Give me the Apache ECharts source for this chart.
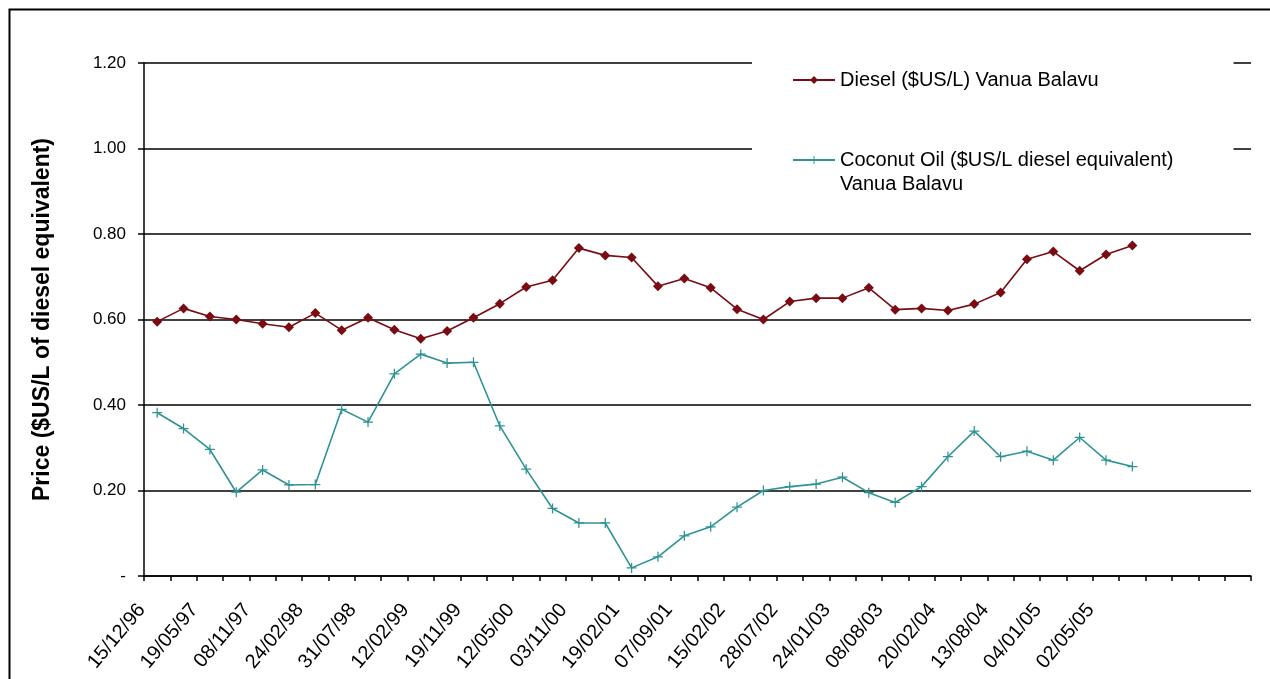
<!DOCTYPE html>
<html>
<head>
<meta charset="utf-8">
<script src="https://cdn.jsdelivr.net/npm/echarts@6/dist/echarts.min.js"></script>
<style>
html,body{margin:0;padding:0;background:#fff;}
#chart{width:1270px;height:679px;}
</style>
</head>
<body>
<div id="chart"></div>
<script>
// Tick labels shown on every other category
const dateLabels = ['15/12/96','19/05/97','08/11/97','24/02/98','31/07/98','12/02/99','19/11/99','12/05/00','03/11/00','19/02/01','07/09/01','15/02/02','28/07/02','24/01/03','08/08/03','20/02/04','13/08/04','04/01/05','02/05/05'];
const categoryCount = 42;

const dieselName = 'Diesel ($US/L) Vanua Balavu';
const coconutName = 'Coconut Oil ($US/L diesel equivalent) Vanua Balavu';

const diesel = [0.595,0.626,0.607,0.600,0.590,0.582,0.615,0.575,0.604,0.576,
                0.555,0.573,0.604,0.637,0.676,0.692,0.767,0.750,0.745,0.678,
                0.696,0.674,0.624,0.600,0.642,0.650,0.650,0.674,0.623,0.626,
                0.621,0.636,0.663,0.741,0.759,0.714,0.752,0.773];
const coconut = [0.382,0.345,0.296,0.196,0.248,0.213,0.214,0.390,0.360,0.473,
                 0.519,0.498,0.500,0.351,0.250,0.158,0.124,0.124,0.019,0.045,
                 0.094,0.115,0.161,0.200,0.209,0.215,0.231,0.195,0.172,0.209,
                 0.279,0.339,0.279,0.292,0.271,0.324,0.271,0.256];

const yTicks = [0, 0.2, 0.4, 0.6, 0.8, 1.0, 1.2];

const categories = [];
for (let i = 0; i < categoryCount; i++) {
  categories.push(i % 2 === 0 && dateLabels[i / 2] ? dateLabels[i / 2] : '');
}

const font = 'Liberation Sans, Arial, sans-serif';
const plusPath = 'path://M7,0h2v7h7v2h-7v7h-2v-7h-7v-2h7z';

const chart = echarts.init(document.getElementById('chart'), null, {renderer: 'canvas'});
chart.setOption({
  animation: false,
  backgroundColor: '#fff',
  graphic: [{
    type: 'rect', left: 7, top: 7, z: -10,
    shape: {width: 1300, height: 700},
    style: {fill: 'none', stroke: '#000', lineWidth: 2}
  }],
  grid: {left: 144, right: 19, top: 63, bottom: 103, containLabel: false},
  legend: {
    orient: 'vertical',
    left: 752, top: 45,
    padding: [25, 60, 10, 40],
    backgroundColor: '#fff',
    itemWidth: 42, itemHeight: 10,
    itemGap: 34,
    textStyle: {fontFamily: font, fontSize: 20, color: '#000'},
    formatter: function (name) {
      return name === coconutName ? '\nCoconut Oil ($US/L diesel equivalent)\nVanua Balavu' : name;
    },
    data: [
      {name: dieselName},
      {name: coconutName, textStyle: {lineHeight: 24}}
    ]
  },
  xAxis: {
    type: 'category',
    data: categories,
    boundaryGap: true,
    axisLine: {lineStyle: {color: '#000', width: 1.5}},
    axisTick: {show: true, interval: 0, length: 5, lineStyle: {color: '#000', width: 1.5}},
    axisLabel: {
      interval: 0, rotate: 50, margin: 12, padding: [0, 24, 0, 0],
      fontFamily: font, fontSize: 20, color: '#000', hideOverlap: false
    },
    splitLine: {show: false}
  },
  yAxis: {
    type: 'value',
    min: yTicks[0], max: yTicks[yTicks.length - 1], interval: 0.2,
    name: 'Price ($US/L of diesel equivalent)',
    nameLocation: 'middle',
    nameGap: 90,
    nameTextStyle: {fontFamily: font, fontSize: 23, fontWeight: 'bold', color: '#000'},
    axisLine: {show: true, lineStyle: {color: '#000', width: 1.5}},
    axisTick: {show: true, length: 6, lineStyle: {color: '#000', width: 1.5}},
    axisLabel: {
      margin: 18, fontFamily: font, fontSize: 17, color: '#000',
      formatter: function (v) { return v === 0 ? '-' : v.toFixed(2); }
    },
    splitLine: {show: true, lineStyle: {color: '#000', width: 1.6}}
  },
  series: [
    {
      name: dieselName, type: 'line', data: diesel,
      symbol: 'diamond', symbolSize: 10,
      lineStyle: {color: '#7a0b12', width: 1.6},
      itemStyle: {color: '#7a0b12'},
      z: 3
    },
    {
      name: coconutName, type: 'line', data: coconut,
      symbol: plusPath, symbolSize: 10,
      lineStyle: {color: '#2f9393', width: 1.6},
      itemStyle: {color: '#2f9393'},
      z: 3
    }
  ]
});
</script>
</body>
</html>
